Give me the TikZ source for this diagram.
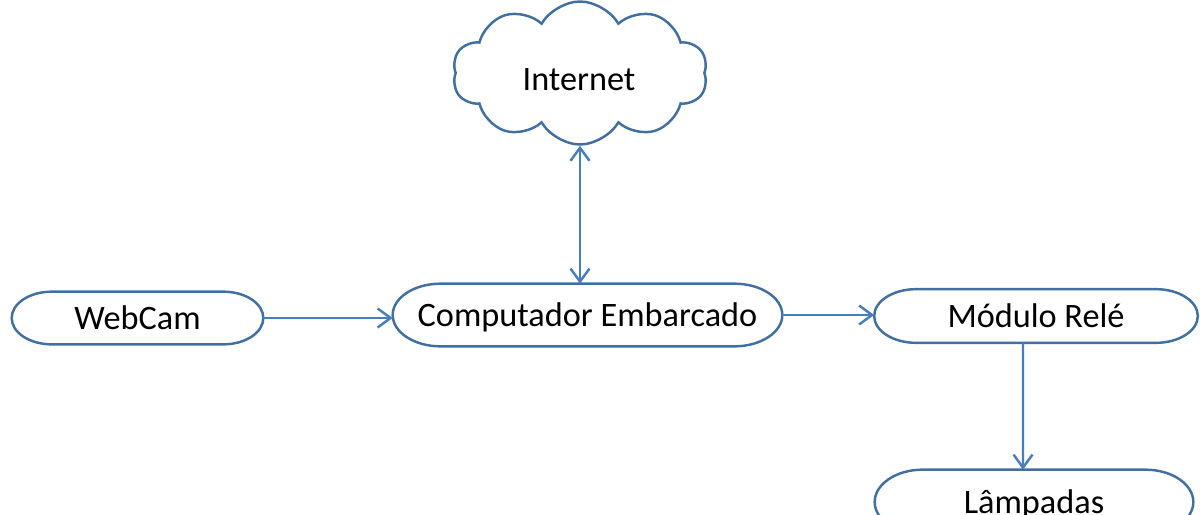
\documentclass[tikz,border=0pt]{standalone}
\usepackage{fontspec}
\setmainfont{Carlito}
\usetikzlibrary{shapes.symbols,arrows.meta,calc}
\definecolor{edgeblue}{HTML}{4A7EBB}
\definecolor{frameblue}{HTML}{41709F}

% outline of a terminator box: straight top and bottom, elliptical ends
\newcommand\pillframe[2]{%
  \draw[frame] let \p1=(#1.north), \p2=(#1.south), \n1={abs(\y1-\y2)/2} in
    ($(#1.north west)+(#2,0)$) -- ($(#1.north east)-(#2,0)$)
    arc[start angle=90,end angle=-90,x radius=#2*0.02cm,y radius=\n1]
    -- ($(#1.south west)+(#2,0)$)
    arc[start angle=270,end angle=90,x radius=#2*0.02cm,y radius=\n1]
    -- cycle;}

\begin{document}
\begin{tikzpicture}[x=0.02cm,y=-0.02cm,
  lbl/.style={font=\fontsize{19.5}{23}\selectfont, text=black, inner sep=0pt,
              text height=12.6pt, text depth=0pt},
  box/.style 2 args={lbl, minimum width=#1, minimum height=#2},
  frame/.style={draw=frameblue, line width=1.4pt},
  link/.style={draw=edgeblue, line width=1.4pt, -{Straight Barb[length=2.6mm,width=3.8mm]}}]

\useasboundingbox[fill=white] (0,0) rectangle (1200,514);

% process blocks
\node[box={5.02cm}{1.04cm}] (web)  at (137.5,318) {WebCam};
\node[box={7.78cm}{1.24cm}] (comp) at (587.5,315) {Computador Embarcado};
\node[box={6.46cm}{1.06cm}] (rele) at (1036,316) {Módulo Relé};
\node[box={6.36cm}{1.28cm}] (lamp) at (1034,502) {Lâmpadas};
\pillframe{web}{40}
\pillframe{comp}{48}
\pillframe{rele}{42}
\pillframe{lamp}{48}

% network cloud
\node[cloud, frame, cloud puffs=10, cloud puff arc=120, aspect=1.85,
      minimum width=5.1cm, minimum height=2.86cm, inner sep=0pt] (net) at (580,73) {};
\node[lbl] (netlbl) at (579,79) {Internet};

% connections
\draw[link] (web.east) -- (web.east -| comp.west);
\draw[link] (comp.east) -- (comp.east -| rele.west);
\draw[link] ([xshift=-0.26cm]rele.south) -- ([xshift=-0.22cm]lamp.north);
\draw[link, {Straight Barb[length=2.6mm,width=3.8mm]}-{Straight Barb[length=2.6mm,width=3.8mm]}]
  (net.south) -- (net.south |- comp.north);
\end{tikzpicture}
\end{document}
